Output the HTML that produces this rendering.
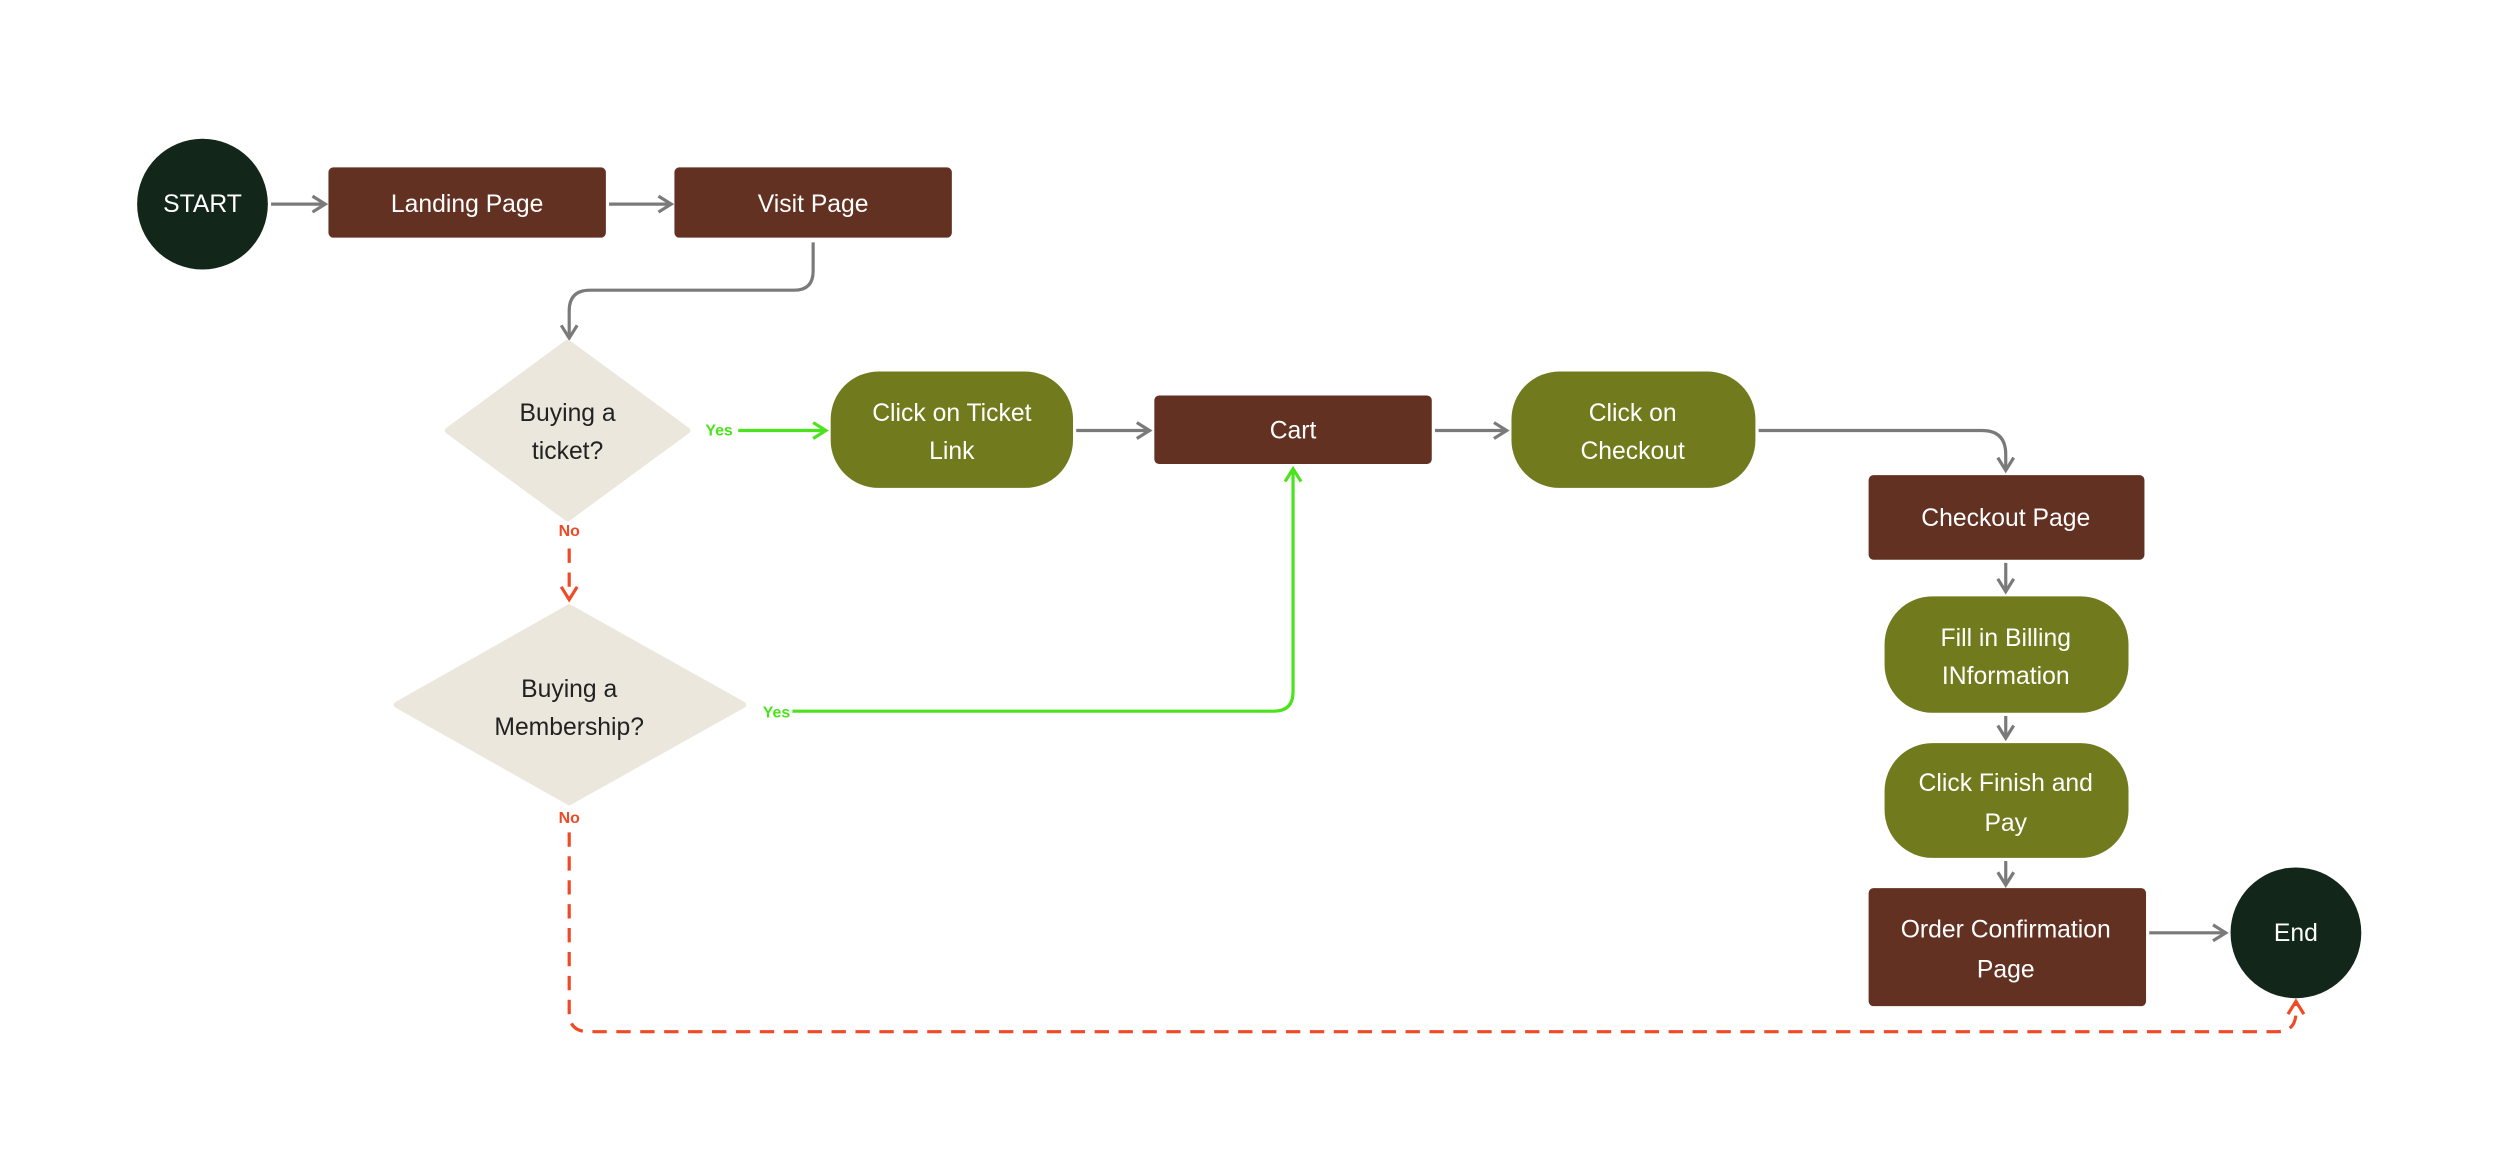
<!DOCTYPE html>
<html><head><meta charset="utf-8"><style>
html,body{margin:0;padding:0;background:#fff;}
svg{display:block;}
text{font-family:"Liberation Sans",sans-serif;}
</style></head><body>
<svg width="2500" height="1172" viewBox="0 0 1568 735" preserveAspectRatio="none" xmlns="http://www.w3.org/2000/svg">
<rect width="1568" height="735" fill="#fff"/>
<defs>
<marker id="ag" viewBox="0 0 12 12" refX="10" refY="6" markerWidth="12" markerHeight="12" markerUnits="userSpaceOnUse" orient="auto"><path d="M2,1 L10,6 L2,11" fill="none" stroke="#7a7a7a" stroke-width="2"/></marker>
<marker id="agr" viewBox="0 0 12 12" refX="10" refY="6" markerWidth="12" markerHeight="12" markerUnits="userSpaceOnUse" orient="auto"><path d="M2,1 L10,6 L2,11" fill="none" stroke="#4be31c" stroke-width="2"/></marker>
<marker id="ar" viewBox="0 0 12 12" refX="10" refY="6" markerWidth="12" markerHeight="12" markerUnits="userSpaceOnUse" orient="auto"><path d="M2,1 L10,6 L2,11" fill="none" stroke="#ef4a25" stroke-width="2"/></marker>
</defs>
<g fill="none" stroke="#7a7a7a" stroke-width="2">
<path d="M170,128 H204" marker-end="url(#ag)"/>
<path d="M382,128 H421" marker-end="url(#ag)"/>
<path d="M510,152 V170 Q510,182 498,182 H370 Q357,182 357,195 V212" marker-end="url(#ag)"/>
<path d="M675,270 H721" marker-end="url(#ag)"/>
<path d="M900,270 H945" marker-end="url(#ag)"/>
<path d="M1103,270 H1243 Q1258,270 1258,285 V295" marker-end="url(#ag)"/>
<path d="M1258,353 V371" marker-end="url(#ag)"/>
<path d="M1258,449 V463" marker-end="url(#ag)"/>
<path d="M1258,540 V555" marker-end="url(#ag)"/>
<path d="M1348,585 H1396" marker-end="url(#ag)"/>
</g>
<g fill="none" stroke="#4be31c" stroke-width="2">
<path d="M463,270 H518" marker-end="url(#agr)"/>
<path d="M497,446 H799 Q811,446 811,434 V294" marker-end="url(#agr)"/>
</g>
<g fill="none" stroke="#ef4a25" stroke-width="2" stroke-dasharray="9,6">
<path d="M357,344 V376" marker-end="url(#ar)"/>
<path d="M357,522 V635 Q357,647 369,647 H1428 Q1440,647 1440,635 V628" marker-end="url(#ar)"/>
</g>
<circle cx="127" cy="128" r="41" fill="#13261a"/>
<circle cx="1440" cy="585" r="41" fill="#13261a"/>
<rect x="206" y="105" width="174" height="44" rx="3" fill="#623122"/>
<rect x="423" y="105" width="174" height="44" rx="3" fill="#623122"/>
<rect x="724" y="248" width="174" height="43" rx="3" fill="#623122"/>
<rect x="1172" y="298" width="173" height="53" rx="3" fill="#623122"/>
<rect x="1172" y="557" width="174" height="74" rx="3" fill="#623122"/>
<rect x="521" y="233" width="152" height="73" rx="30" fill="#717a1c"/>
<rect x="948" y="233" width="153" height="73" rx="30" fill="#717a1c"/>
<rect x="1182" y="374" width="153" height="73" rx="30" fill="#717a1c"/>
<rect x="1182" y="466" width="153" height="72" rx="30" fill="#717a1c"/>
<path d="M281,270 L356,215 L431,270 L356,325 Z" fill="#ebe7dc" stroke="#ebe7dc" stroke-width="4" stroke-linejoin="round"/>
<path d="M249,442 L357,381 L466,442 L357,503 Z" fill="#ebe7dc" stroke="#ebe7dc" stroke-width="4" stroke-linejoin="round"/>
<g fill="#fff" font-size="15.5" text-anchor="middle">
<text x="127" y="133">START</text>
<text x="1440" y="590">End</text>
<text x="293" y="133">Landing Page</text>
<text x="510" y="133">Visit Page</text>
<text x="811" y="275">Cart</text>
<text x="1258" y="330">Checkout Page</text>
<text x="1258" y="588">Order Confirmation</text>
<text x="1258" y="613">Page</text>
<text x="597" y="264">Click on Ticket</text>
<text x="597" y="288">Link</text>
<text x="1024" y="264">Click on</text>
<text x="1024" y="288">Checkout</text>
<text x="1258" y="405">Fill in Billing</text>
<text x="1258" y="429">INformation</text>
<text x="1258" y="496">Click Finish and</text>
<text x="1258" y="521">Pay</text>
</g>
<g fill="#222" font-size="15.5" text-anchor="middle">
<text x="356" y="264">Buying a</text>
<text x="356" y="288">ticket?</text>
<text x="357" y="437">Buying a</text>
<text x="357" y="461">Membership?</text>
</g>
<g font-size="10" font-weight="bold" text-anchor="middle">
<text x="451" y="273" fill="#4be31c">Yes</text>
<text x="487" y="450" fill="#4be31c">Yes</text>
<text x="357" y="336" fill="#ef4a25">No</text>
<text x="357" y="516" fill="#ef4a25">No</text>
</g>
</svg>
</body></html>
